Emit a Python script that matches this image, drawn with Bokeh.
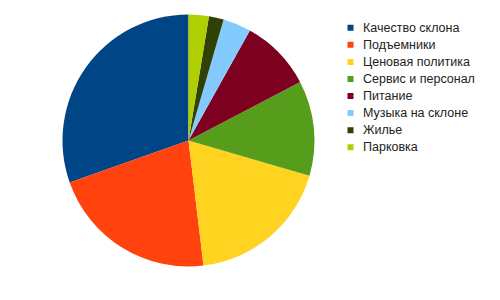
import numpy as np
from bokeh.plotting import figure
from bokeh.models import Range1d, ColumnDataSource
from bokeh.core.properties import value
from bokeh.embed import file_html
from bokeh.resources import INLINE

categories = ["Качество склона", "Подъемники", "Ценовая политика", "Сервис и персонал",
              "Питание", "Музыка на склоне", "Жилье", "Парковка"]
shares = [30.4, 21.5, 18.6, 12.2, 9.2, 3.6, 1.9, 2.6]
colors = ["#004586", "#ff420e", "#ffd320", "#579d1c", "#7e0021", "#83caff", "#314004", "#aecf00"]

W, H = 500, 300
p = figure(width=W, height=H, x_range=Range1d(0, W), y_range=Range1d(0, H),
           output_backend="svg", toolbar_location=None, min_border=0)
p.axis.visible = False
p.grid.visible = False
p.outline_line_color = None
p.background_fill_color = "white"
p.border_fill_color = "white"

vals = np.array(shares, dtype=float)
frac = vals / vals.sum()
cum = np.concatenate([[0], np.cumsum(frac)])
start = np.pi / 2 + 2 * np.pi * cum[:-1]
end = np.pi / 2 + 2 * np.pi * cum[1:]

cx, cy, r = 188, H - 140, 126
src = ColumnDataSource(dict(start=start, end=end, color=colors))
p.wedge(x=cx, y=cy, radius=r, start_angle="start", end_angle="end",
        direction="anticlock", fill_color="color", line_color=None, source=src)

n = len(categories)
ly = [H - 27.3 - i * 17.06 for i in range(n)]
lsrc = ColumnDataSource(dict(x=[350] * n, tx=[362.5] * n, y=ly, color=colors, label=categories))
p.rect(x="x", y="y", width=6, height=6, fill_color="color", line_color=None, source=lsrc)
p.text(x="tx", y="y", text="label", text_font=value("Liberation Sans"), text_font_size="12.5px",
       text_baseline="middle", text_color="#222222", source=lsrc)

open("out.html", "w").write(file_html(p, INLINE))
